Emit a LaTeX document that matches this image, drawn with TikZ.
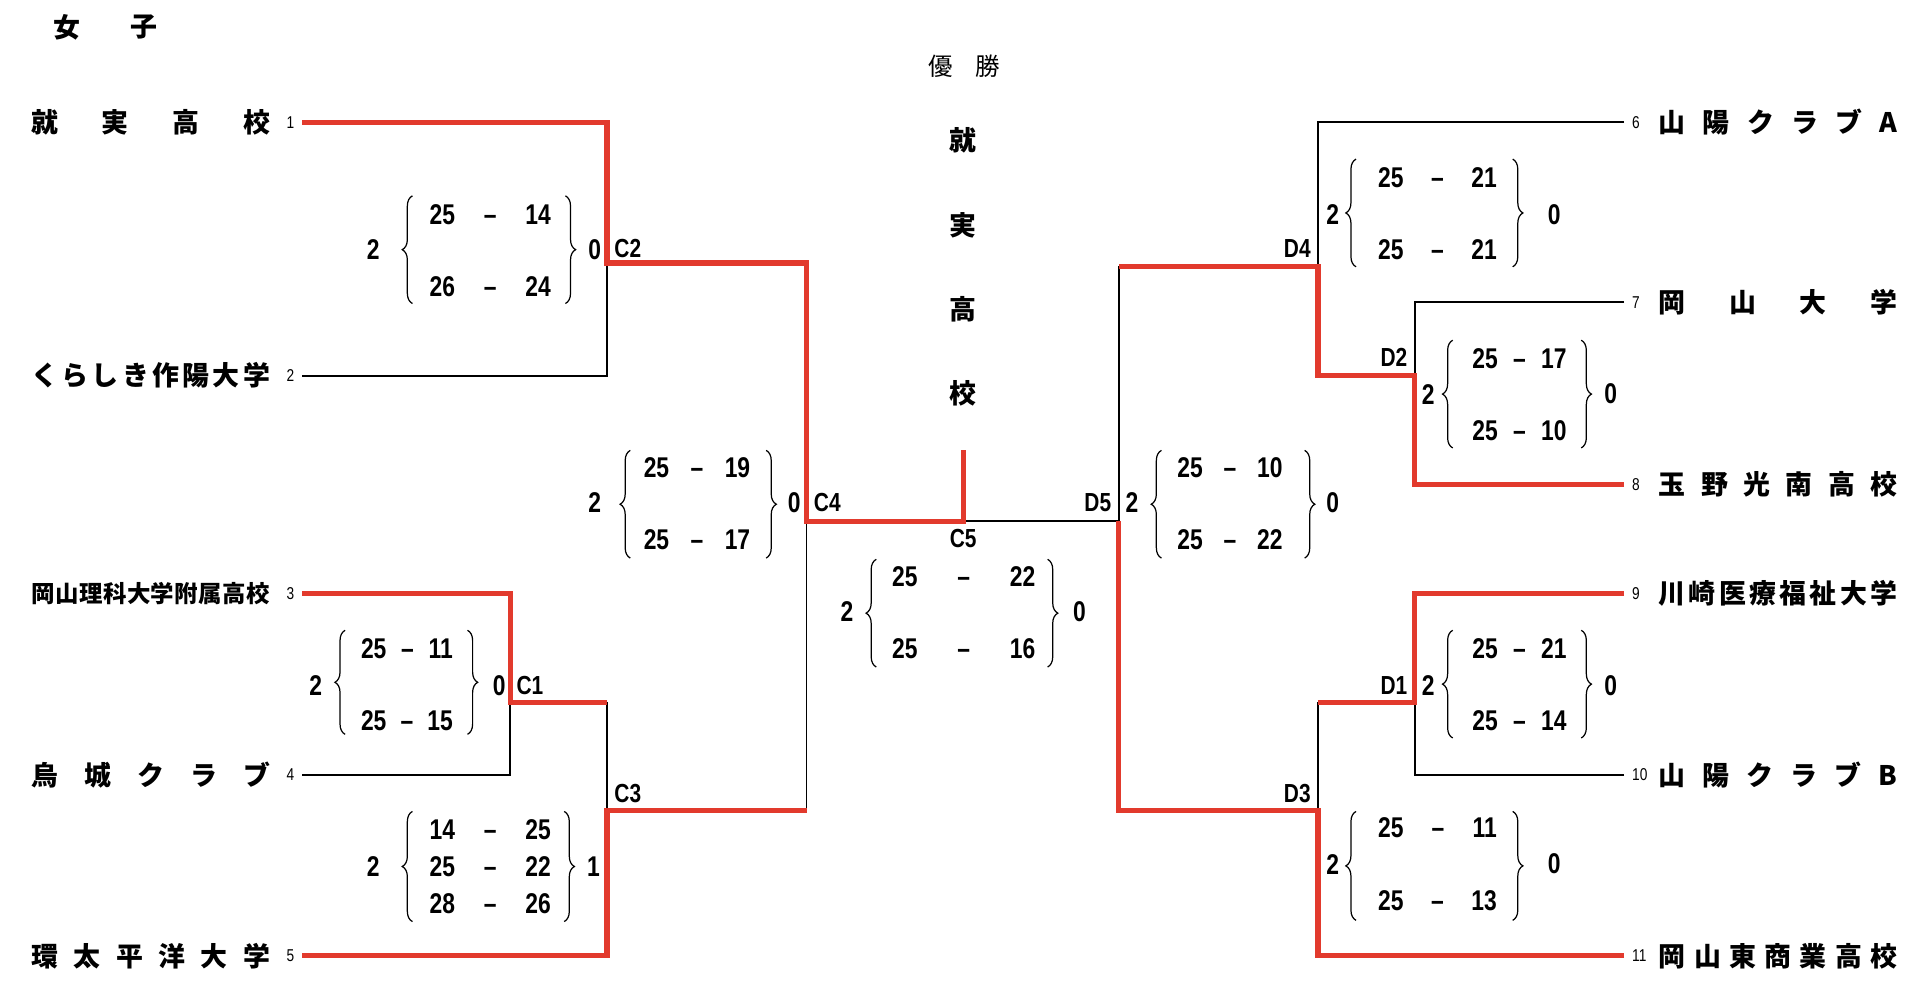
\documentclass[tikz,border=0pt]{standalone}
\usepackage{fontspec}
\usetikzlibrary{decorations.pathreplacing}
\newfontfamily\jp{Noto Sans CJK JP}
\newfontfamily\nar{Liberation Sans}[FakeStretch=0.8]
\definecolor{winred}{RGB}{226,58,45}
\newlength\pxu \setlength\pxu{0.6pt}
\newcommand{\pts}[3]{\makebox[#1\pxu][s]{#2\hfill–\hfill#3}}
\newcommand{\spr}[1]{\makebox[195\pxu][s]{#1}}

\begin{document}
\begin{tikzpicture}[x=0.6pt, y=-0.6pt,
    lose/.style={line width=0.9pt},
    win/.style={line width=2.6pt, winred},
    brc/.style={decorate, decoration={brace, amplitude=5pt}, line width=0.6pt},
    nm/.style={font=\jp\bfseries\fontsize{13.2}{14}\selectfont, inner sep=0pt},
    num/.style={font=\nar\fontsize{8.4}{9}\selectfont, inner sep=0pt, outer xsep=4pt},
    sc/.style={font=\nar\bfseries\fontsize{14}{15}\selectfont, inner sep=0pt},
    lab/.style={font=\nar\bfseries\fontsize{12.8}{14}\selectfont, inner sep=0pt}]
\useasboundingbox (0,0) rectangle (1568,809);
% titre
\node[nm] (tt1) at (55,22) {女};
\node[nm] (tt2) at (118,22) {子};
\node[font=\jp\fontsize{12}{13}\selectfont, inner sep=0pt] (yu) at (788,54) {優\hspace{0.9em}勝};
\node[nm] (w1) at (787,115) {就};
\node[nm] (w2) at (787,184) {実};
\node[nm] (w3) at (787,253) {高};
\node[nm] (w4) at (787,321) {校};
% equipes gauche
\node[num, anchor=east] (n1) at (247,100) {1};
\node[num, anchor=east] (n2) at (247,307) {2};
\node[num, anchor=east] (n3) at (247,485) {3};
\node[num, anchor=east] (n4) at (247,633) {4};
\node[num, anchor=east] (n5) at (247,781) {5};
\node[nm, anchor=east] (t1) at (221,100) {\spr{就\hfill 実\hfill 高\hfill 校}};
\node[nm, anchor=east] (t2) at (221,307) {\spr{く\hfill ら\hfill し\hfill き\hfill 作\hfill 陽\hfill 大\hfill 学}};
\node[nm, anchor=east, font=\jp\bfseries\fontsize{11.5}{12}\selectfont] (t3) at (221,485) {\spr{岡\hfill 山\hfill 理\hfill 科\hfill 大\hfill 学\hfill 附\hfill 属\hfill 高\hfill 校}};
\node[nm, anchor=east] (t4) at (221,633) {\spr{烏\hfill 城\hfill ク\hfill ラ\hfill ブ}};
\node[nm, anchor=east] (t5) at (221,781) {\spr{環\hfill 太\hfill 平\hfill 洋\hfill 大\hfill 学}};
% equipes droite
\node[num, anchor=west] (n6) at (1327,100) {6};
\node[num, anchor=west] (n7) at (1327,247) {7};
\node[num, anchor=west] (n8) at (1327,396) {8};
\node[num, anchor=west] (n9) at (1327,485) {9};
\node[num, anchor=west] (n10) at (1327,633) {10};
\node[num, anchor=west] (n11) at (1327,781) {11};
\node[nm, anchor=west] (t6) at (1355,100) {\spr{山\hfill 陽\hfill ク\hfill ラ\hfill ブ\hfill A}};
\node[nm, anchor=west] (t7) at (1355,247) {\spr{岡\hfill 山\hfill 大\hfill 学}};
\node[nm, anchor=west] (t8) at (1355,396) {\spr{玉\hfill 野\hfill 光\hfill 南\hfill 高\hfill 校}};
\node[nm, anchor=west] (t9) at (1355,485) {\spr{川\hfill 崎\hfill 医\hfill 療\hfill 福\hfill 祉\hfill 大\hfill 学}};
\node[nm, anchor=west] (t10) at (1355,633) {\spr{山\hfill 陽\hfill ク\hfill ラ\hfill ブ\hfill B}};
\node[nm, anchor=west] (t11) at (1355,781) {\spr{岡\hfill 山\hfill 東\hfill 商\hfill 業\hfill 高\hfill 校}};
% points de rencontre
\coordinate (c1) at (417,574);
\coordinate (c2) at (496,215);
\coordinate (c3) at (496,662);
\coordinate (c4) at (659,426);
\coordinate (c5) at (787,426);
\coordinate (top) at (787,368);
\coordinate (d1) at (1156,574);
\coordinate (d2) at (1156,307);
\coordinate (d3) at (1077,662);
\coordinate (d4) at (1077,218);
\coordinate (d5) at (914,426);
% tableau
\draw[lose] (n2.east) -| (c2);
\draw[lose] (n4.east) -| (c1);
\draw[lose] (c1) -| (c3);
\draw[lose] (c3) -| (c4);
\draw[lose] (c5) -- (d5) |- (d4);
\draw[lose] (n6.west) -| (d4);
\draw[lose] (n7.west) -| (d2);
\draw[lose] (n10.west) -| (d1);
\draw[lose] (d1) -| (d3);
% vainqueurs
\draw[win] (n1.east) -| (c2) -| (c4) -- (c5) -- (top);
\draw[win] (n3.east) -| (c1) -- (c1 -| c3);
\draw[win] (n5.east) -| (c3) -- (c3 -| c4);
\draw[win] (n8.west) -| (d2) -| (d4) -- (d4 -| d5);
\draw[win] (n9.west) -| (d1) -- (d1 -| d3);
\draw[win] (n11.west) -| (d3) -| (d5);
% etiquettes
\node[lab] (lc1) at (433,560) {C1};
\node[lab] (lc2) at (513,203) {C2};
\node[lab] (lc3) at (513,648) {C3};
\node[lab] (lc4) at (676,411) {C4};
\node[lab] (lc5) at (787,440) {C5};
\node[lab] (ld1) at (1139,560) {D1};
\node[lab] (ld2) at (1139,292) {D2};
\node[lab] (ld3) at (1060,648) {D3};
\node[lab] (ld4) at (1060,203) {D4};
\node[lab] (ld5) at (897,411) {D5};
% scores C2
\node[sc] (c2w) at (305,204) {2};
\node[sc] (c2a) at (400.5,175) {\pts{99}{25}{14}};
\node[sc] (c2b) at (400.5,234) {\pts{99}{26}{24}};
\node[sc] (c2l) at (486,204) {0};
\draw[brc] (337,248) -- (337,160);
\draw[brc] (462,160) -- (462,248);
% scores C4
\node[sc] (c4w) at (486,411) {2};
\node[sc] (c4a) at (569.5,382) {\pts{87}{25}{19}};
\node[sc] (c4b) at (569.5,441) {\pts{87}{25}{17}};
\node[sc] (c4l) at (649,411) {0};
\draw[brc] (515,456) -- (515,368);
\draw[brc] (626,368) -- (626,456);
% scores C1
\node[sc] (c1w) at (258,560) {2};
\node[sc] (c1a) at (332.5,530) {\pts{75}{25}{11}};
\node[sc] (c1b) at (332.5,589) {\pts{75}{25}{15}};
\node[sc] (c1l) at (408,560) {0};
\draw[brc] (282,600) -- (282,515);
\draw[brc] (382,515) -- (382,600);
% scores C3
\node[sc] (c3w) at (305,708) {2};
\node[sc] (c3a) at (400.5,678) {\pts{99}{14}{25}};
\node[sc] (c3b) at (400.5,708) {\pts{99}{25}{22}};
\node[sc] (c3c) at (400.5,738) {\pts{99}{28}{26}};
\node[sc] (c3l) at (485,708) {1};
\draw[brc] (337,753) -- (337,663);
\draw[brc] (461,663) -- (461,753);
% scores C5
\node[sc] (c5w) at (692,500) {2};
\node[sc] (c5a) at (787.5,471) {\pts{117}{25}{22}};
\node[sc] (c5b) at (787.5,530) {\pts{117}{25}{16}};
\node[sc] (c5l) at (882,500) {0};
\draw[brc] (716,545) -- (716,457);
\draw[brc] (856,457) -- (856,545);
% scores D5
\node[sc] (d5w) at (925,411) {2};
\node[sc] (d5a) at (1005,382) {\pts{86}{25}{10}};
\node[sc] (d5b) at (1005,441) {\pts{86}{25}{22}};
\node[sc] (d5l) at (1089,411) {0};
\draw[brc] (949,456) -- (949,368);
\draw[brc] (1066,368) -- (1066,456);
% scores D4
\node[sc] (d4w) at (1089,175) {2};
\node[sc] (d4a) at (1174.5,145) {\pts{97}{25}{21}};
\node[sc] (d4b) at (1174.5,204) {\pts{97}{25}{21}};
\node[sc] (d4l) at (1270,175) {0};
\draw[brc] (1108,218) -- (1108,130);
\draw[brc] (1236,130) -- (1236,218);
% scores D2
\node[sc] (d2w) at (1167,322) {2};
\node[sc] (d2a) at (1241.5,293) {\pts{77}{25}{17}};
\node[sc] (d2b) at (1241.5,352) {\pts{77}{25}{10}};
\node[sc] (d2l) at (1316,322) {0};
\draw[brc] (1187,366) -- (1187,278);
\draw[brc] (1292,278) -- (1292,366);
% scores D1
\node[sc] (d1w) at (1167,560) {2};
\node[sc] (d1a) at (1241.5,530) {\pts{77}{25}{21}};
\node[sc] (d1b) at (1241.5,589) {\pts{77}{25}{14}};
\node[sc] (d1l) at (1316,560) {0};
\draw[brc] (1187,603) -- (1187,515);
\draw[brc] (1292,515) -- (1292,603);
% scores D3
\node[sc] (d3w) at (1089,706) {2};
\node[sc] (d3a) at (1174.5,676) {\pts{97}{25}{11}};
\node[sc] (d3b) at (1174.5,736) {\pts{97}{25}{13}};
\node[sc] (d3l) at (1270,706) {0};
\draw[brc] (1108,752) -- (1108,663);
\draw[brc] (1236,663) -- (1236,752);
\end{tikzpicture}
\end{document}
